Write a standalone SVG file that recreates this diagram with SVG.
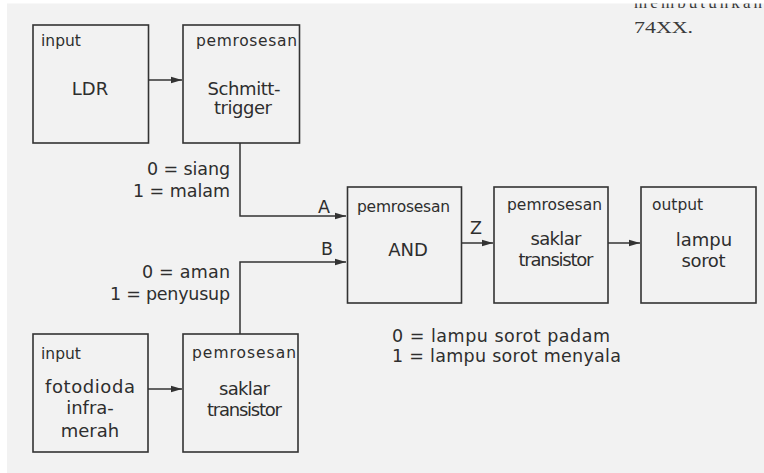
<svg xmlns="http://www.w3.org/2000/svg" width="764" height="473" viewBox="0 0 764 473">
<defs>
<style>
.bg{fill:#f2f2f2}
.box{fill:none;stroke:#333333;stroke-width:1.6}
.ln{fill:none;stroke:#333333;stroke-width:1.5}
text{font-family:"DejaVu Sans","Liberation Sans",sans-serif;fill:#2e2e2e}
.lb{font-size:15.5px}
.mt{font-size:18px;text-anchor:middle}
.an{font-size:17.5px;text-anchor:end}
.sig{font-size:17.5px}
.serif{font-family:"Liberation Serif","DejaVu Serif",serif;font-size:17px;fill:#3a3a3a}
</style>
<marker id="ah" markerUnits="userSpaceOnUse" markerWidth="11" markerHeight="8" refX="11" refY="4" orient="auto">
<path d="M0,0.8 L11,4 L0,7.2 Z" fill="#333333"/>
</marker>
<clipPath id="pg"><rect x="0" y="3.5" width="764" height="470"/></clipPath>
</defs>
<rect width="764" height="473" fill="#ffffff"/>
<rect class="bg" x="7" y="3.5" width="757" height="470"/>
<g clip-path="url(#pg)">
<text class="serif" x="634" y="8" textLength="128">membutuhkan</text>
</g>
<text class="serif" x="634" y="33" textLength="59" lengthAdjust="spacingAndGlyphs">74XX.</text>

<g id="connectors">
<line class="ln" x1="149" y1="80" x2="182" y2="80" marker-end="url(#ah)"/>
<polyline class="ln" points="240,143 240,216 346,216" marker-end="url(#ah)"/>
<polyline class="ln" points="240,334 240,262 346,262" marker-end="url(#ah)"/>
<line class="ln" x1="462" y1="243" x2="493" y2="243" marker-end="url(#ah)"/>
<line class="ln" x1="608" y1="243" x2="640" y2="243" marker-end="url(#ah)"/>
<line class="ln" x1="148" y1="389" x2="182" y2="389" marker-end="url(#ah)"/>
<text class="sig" x="318" y="213">A</text>
<text class="sig" x="321" y="255">B</text>
<text class="sig" x="470" y="234">Z</text>
<text class="an" x="230" y="175" textLength="83">0 = siang</text>
<text class="an" x="230" y="197" textLength="97">1 = malam</text>
<text class="an" x="230" y="278" textLength="88">0 = aman</text>
<text class="an" x="230" y="300" textLength="120">1 = penyusup</text>
<text class="sig" x="392" y="342" textLength="218">0 = lampu sorot padam</text>
<text class="sig" x="392" y="362" textLength="229">1 = lampu sorot menyala</text>
</g>

<g id="ldr">
<rect class="box" x="33" y="25" width="115.5" height="118"/>
<text class="lb" x="41" y="46">input</text>
<text class="mt" x="90" y="95">LDR</text>
</g>
<g id="schmitt">
<rect class="box" x="183" y="25" width="116.5" height="118"/>
<text class="lb" x="196" y="46" textLength="101">pemrosesan</text>
<text class="mt" x="244" y="95" textLength="73">Schmitt-</text>
<text class="mt" x="243" y="114" textLength="58">trigger</text>
</g>
<g id="and">
<rect class="box" x="347.5" y="187" width="114" height="116"/>
<text class="lb" x="357" y="212" textLength="93">pemrosesan</text>
<text class="mt" x="408" y="256">AND</text>
</g>
<g id="saklar1">
<rect class="box" x="494" y="187" width="114" height="116"/>
<text class="lb" x="507" y="210" textLength="95">pemrosesan</text>
<text class="mt" x="556" y="245" textLength="51">saklar</text>
<text class="mt" x="556" y="266" textLength="75">transistor</text>
</g>
<g id="lampu">
<rect class="box" x="641" y="187" width="115" height="116"/>
<text class="lb" x="652" y="210">output</text>
<text class="mt" x="704" y="246">lampu</text>
<text class="mt" x="703.5" y="267" textLength="44">sorot</text>
</g>
<g id="fotodioda">
<rect class="box" x="33" y="334" width="115" height="118"/>
<text class="lb" x="41" y="359">input</text>
<text class="mt" x="90" y="393" textLength="90">fotodioda</text>
<text class="mt" x="90" y="414">infra-</text>
<text class="mt" x="90" y="437">merah</text>
</g>
<g id="saklar2">
<rect class="box" x="183" y="334" width="115" height="118"/>
<text class="lb" x="192" y="358" textLength="104">pemrosesan</text>
<text class="mt" x="244.5" y="395" textLength="51">saklar</text>
<text class="mt" x="244.5" y="416" textLength="75">transistor</text>
</g>
</svg>
